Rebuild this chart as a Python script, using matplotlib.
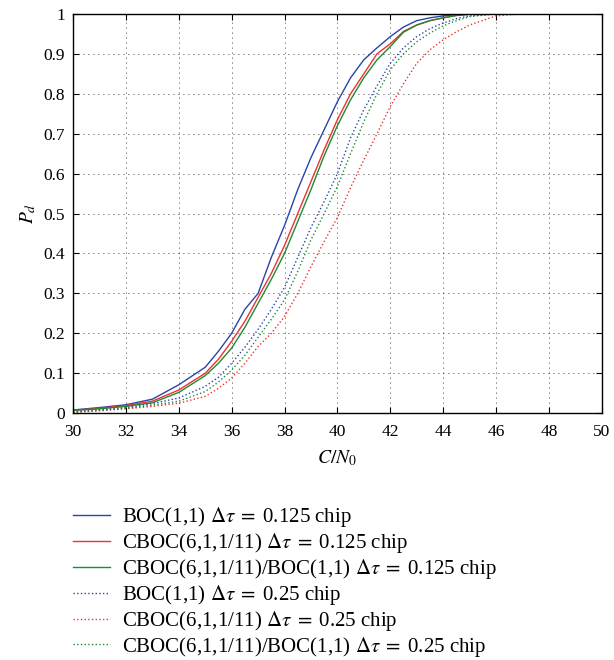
import matplotlib
matplotlib.use("Agg")
import matplotlib.pyplot as plt
import numpy as np

plt.rcParams['font.family'] = ['Liberation Serif', 'DejaVu Serif']
plt.rcParams['mathtext.fontset'] = 'stix'

cn0 = [30, 31, 32, 33, 34, 35, 35.5, 36, 36.5, 37, 37.5, 38, 38.5, 39, 39.5, 40,
       40.5, 41, 41.5, 42, 42.5, 43, 43.5, 44, 44.5, 45, 46, 47, 48, 49, 50]

boc_125 = [0.008, 0.014, 0.021, 0.035, 0.071, 0.115, 0.155, 0.20, 0.26, 0.30, 0.39, 0.47,
           0.56, 0.64, 0.71, 0.78, 0.84, 0.885, 0.915, 0.943, 0.967, 0.983, 0.99, 0.995,
           0.998, 1.0, 1.0, 1.0, 1.0, 1.0, 1.0]
cboc_125 = [0.007, 0.012, 0.019, 0.03, 0.058, 0.10, 0.135, 0.18, 0.23, 0.29, 0.35, 0.42,
            0.50, 0.58, 0.66, 0.735, 0.80, 0.85, 0.90, 0.925, 0.956, 0.972, 0.983, 0.99,
            0.996, 0.999, 1.0, 1.0, 1.0, 1.0, 1.0]
mix_125 = [0.007, 0.011, 0.017, 0.026, 0.052, 0.094, 0.125, 0.163, 0.215, 0.275, 0.335, 0.40,
           0.48, 0.56, 0.645, 0.72, 0.785, 0.84, 0.885, 0.918, 0.954, 0.972, 0.983, 0.99,
           0.996, 0.999, 1.0, 1.0, 1.0, 1.0, 1.0]
boc_25 = [0.003, 0.008, 0.014, 0.024, 0.038, 0.067, 0.09, 0.125, 0.165, 0.21, 0.26, 0.315,
          0.39, 0.465, 0.53, 0.60, 0.69, 0.76, 0.82, 0.876, 0.915, 0.943, 0.963, 0.977,
          0.988, 0.995, 1.0, 1.0, 1.0, 1.0, 1.0]
cboc_25 = [0.002, 0.006, 0.011, 0.017, 0.025, 0.042, 0.062, 0.088, 0.125, 0.167, 0.2, 0.242,
           0.30, 0.367, 0.43, 0.49, 0.565, 0.634, 0.70, 0.768, 0.825, 0.876, 0.91, 0.935,
           0.955, 0.972, 0.995, 1.0, 1.0, 1.0, 1.0]
mix_25 = [0.003, 0.007, 0.012, 0.02, 0.03, 0.054, 0.078, 0.108, 0.145, 0.19, 0.235, 0.284,
          0.355, 0.434, 0.50, 0.568, 0.65, 0.73, 0.80, 0.86, 0.90, 0.93, 0.952, 0.97,
          0.983, 0.993, 1.0, 1.0, 1.0, 1.0, 1.0]

labels = [r'BOC(1,1) $\Delta\tau\;=\;$0.125 chip',
          r'CBOC(6,1,1/11) $\Delta\tau\;=\;$0.125 chip',
          r'CBOC(6,1,1/11)/BOC(1,1) $\Delta\tau\;=\;$0.125 chip',
          r'BOC(1,1) $\Delta\tau\;=\;$0.25 chip',
          r'CBOC(6,1,1/11) $\Delta\tau\;=\;$0.25 chip',
          r'CBOC(6,1,1/11)/BOC(1,1) $\Delta\tau\;=\;$0.25 chip']

blue, red, green = '#2a45a8', '#f03030', '#1f8a35'
series = [(boc_125, blue, '-'), (cboc_125, red, '-'), (mix_125, green, '-'),
          (boc_25, blue, ':'), (cboc_25, red, ':'), (mix_25, green, ':')]

fig = plt.figure(figsize=(6.14, 6.6), dpi=100)
ax = fig.add_axes([0.119, 0.374, 0.861, 0.605])
for (y, c, ls), lab in zip(series, labels):
    ax.plot(cn0, y, color=c, linestyle=ls, linewidth=1.0, label=lab)

ax.set_xlim(30, 50)
ax.set_ylim(0, 1)
ax.set_xticks(np.arange(30, 51, 2))
ax.set_yticks(np.round(np.arange(0, 1.01, 0.1), 1))
ax.set_yticklabels(['0', '0.1', '0.2', '0.3', '0.4', '0.5', '0.6', '0.7', '0.8', '0.9', '1'])
ax.grid(True, color='black', linestyle=(0, (1, 5)), linewidth=0.6)
ax.tick_params(direction='in', top=True, right=True, labelsize=12.5, length=4)
ax.tick_params(axis='x', pad=8)
ax.tick_params(axis='y', pad=6)
for s in ax.spines.values():
    s.set_linewidth(1.0)
ax.set_xlabel(r'$C/N_0$', fontsize=14, labelpad=6)
ax.set_ylabel(r'$P_d$', fontsize=14, labelpad=4)

fig.legend(loc='upper left', bbox_to_anchor=(0.105, 0.247), frameon=False,
           fontsize=15, handlelength=1.8, handletextpad=0.55, labelspacing=0.09,
           borderaxespad=0)

fig.savefig('out.png', dpi=100)
